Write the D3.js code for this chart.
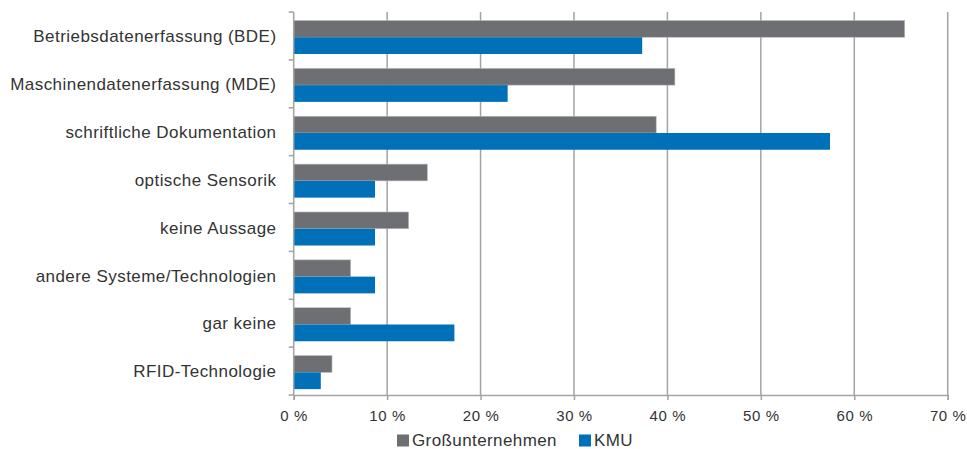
<!DOCTYPE html>
<html>
<head>
<meta charset="utf-8">
<script src="https://cdn.jsdelivr.net/npm/d3@7"></script>
<style>
  body { margin: 0; background: #fff; }
  text { font-family: "Liberation Sans", Arial, sans-serif; fill: #333; }
</style>
</head>
<body>
<div id="chart"></div>
<script>
// data (percent)
var categories = [
  "Betriebsdatenerfassung (BDE)",
  "Maschinendatenerfassung (MDE)",
  "schriftliche Dokumentation",
  "optische Sensorik",
  "keine Aussage",
  "andere Systeme/Technologien",
  "gar keine",
  "RFID-Technologie"
];
var grossValues = [65.4, 40.8, 38.8, 14.3, 12.3, 6.1, 6.1, 4.1];
var kmuValues   = [37.3, 22.9, 57.4, 8.7, 8.7, 8.7, 17.2, 2.9];
var seriesNames = ["Großunternehmen", "KMU"];
var seriesColors = ["#6e6f73", "#0070b9"];
var xTicks = [0, 10, 20, 30, 40, 50, 60, 70];

var width = 967, height = 449;
var margin = { top: 12, right: 20, bottom: 54, left: 293.7 };

var svg = d3.select("#chart").append("svg")
  .attr("width", width)
  .attr("height", height);

var x = d3.scaleLinear()
  .domain([0, 70])
  .range([margin.left, margin.left + 654]);

var y = d3.scaleBand()
  .domain(categories)
  .range([margin.top, height - margin.bottom])
  .paddingInner(0)
  .paddingOuter(0);

// two bars per category, slightly below the band centre
var inner = d3.scaleBand()
  .domain(seriesNames)
  .range([8.5, 42])
  .padding(0);

// gridlines
svg.append("g")
  .selectAll("line")
  .data(xTicks.slice(1))
  .enter().append("line")
  .attr("x1", d => x(d)).attr("x2", d => x(d))
  .attr("y1", margin.top).attr("y2", height - margin.bottom)
  .attr("stroke", "#a3a3a6")
  .attr("stroke-width", 1.5);

// bars
var rows = categories.map((c, i) => ({ cat: c, vals: [grossValues[i], kmuValues[i]] }));

var group = svg.append("g").selectAll("g")
  .data(rows)
  .enter().append("g")
  .attr("transform", d => "translate(0," + y(d.cat) + ")");

group.selectAll("rect")
  .data(d => d.vals.map((v, j) => ({ name: seriesNames[j], value: v, color: seriesColors[j] })))
  .enter().append("rect")
  .attr("x", x(0))
  .attr("y", d => inner(d.name))
  .attr("width", d => x(d.value) - x(0))
  .attr("height", inner.bandwidth())
  .attr("fill", d => d.color)
  .attr("stroke", d => d.name === seriesNames[0] ? "#b9babc" : "none")
  .attr("stroke-width", 0.6);

// x axis
var xAxis = svg.append("g")
  .attr("transform", "translate(0," + (height - margin.bottom) + ")")
  .call(d3.axisBottom(x).tickValues(xTicks).tickSize(5).tickPadding(10)
    .tickFormat(d => d + " %"));
xAxis.select(".domain").attr("stroke", "#a3a3a6").attr("stroke-width", 1.5);
xAxis.selectAll(".tick line").attr("stroke", "#a3a3a6").attr("stroke-width", 1.5);
xAxis.selectAll("text").attr("font-size", 15).attr("fill", "#333")
  .attr("letter-spacing", 0.6)
  .attr("font-family", "Liberation Sans, Arial, sans-serif");

// y axis (ticks at category boundaries)
var yAx = svg.append("g");
yAx.append("line")
  .attr("x1", x(0)).attr("x2", x(0))
  .attr("y1", margin.top).attr("y2", height - margin.bottom)
  .attr("stroke", "#a3a3a6").attr("stroke-width", 1.5);
yAx.selectAll("line.tk")
  .data(categories.concat(["_end"]))
  .enter().append("line")
  .attr("class", "tk")
  .attr("x1", x(0) - 5).attr("x2", x(0))
  .attr("y1", (d, i) => margin.top + i * y.bandwidth())
  .attr("y2", (d, i) => margin.top + i * y.bandwidth())
  .attr("stroke", "#a3a3a6").attr("stroke-width", 1.5);
yAx.selectAll("text")
  .data(categories)
  .enter().append("text")
  .attr("x", 276.5)
  .attr("y", d => y(d) + y.bandwidth() / 2 + 0.3)
  .attr("dy", "0.35em")
  .attr("text-anchor", "end")
  .attr("font-size", 17)
  .attr("letter-spacing", 0.45)
  .text(d => d);

// legend
var legend = svg.append("g").attr("transform", "translate(397,440.5)");
var legendX = [0, 182];
seriesNames.forEach(function(name, i) {
  var g = legend.append("g").attr("transform", "translate(" + legendX[i] + ",0)");
  g.append("rect")
    .attr("x", 0).attr("y", -6)
    .attr("width", 12).attr("height", 12)
    .attr("fill", seriesColors[i]);
  g.append("text")
    .attr("x", 15).attr("y", 0)
    .attr("dy", "0.35em")
    .attr("font-size", 17)
    .attr("letter-spacing", 0.4)
    .text(name);
});
</script>
</body>
</html>
